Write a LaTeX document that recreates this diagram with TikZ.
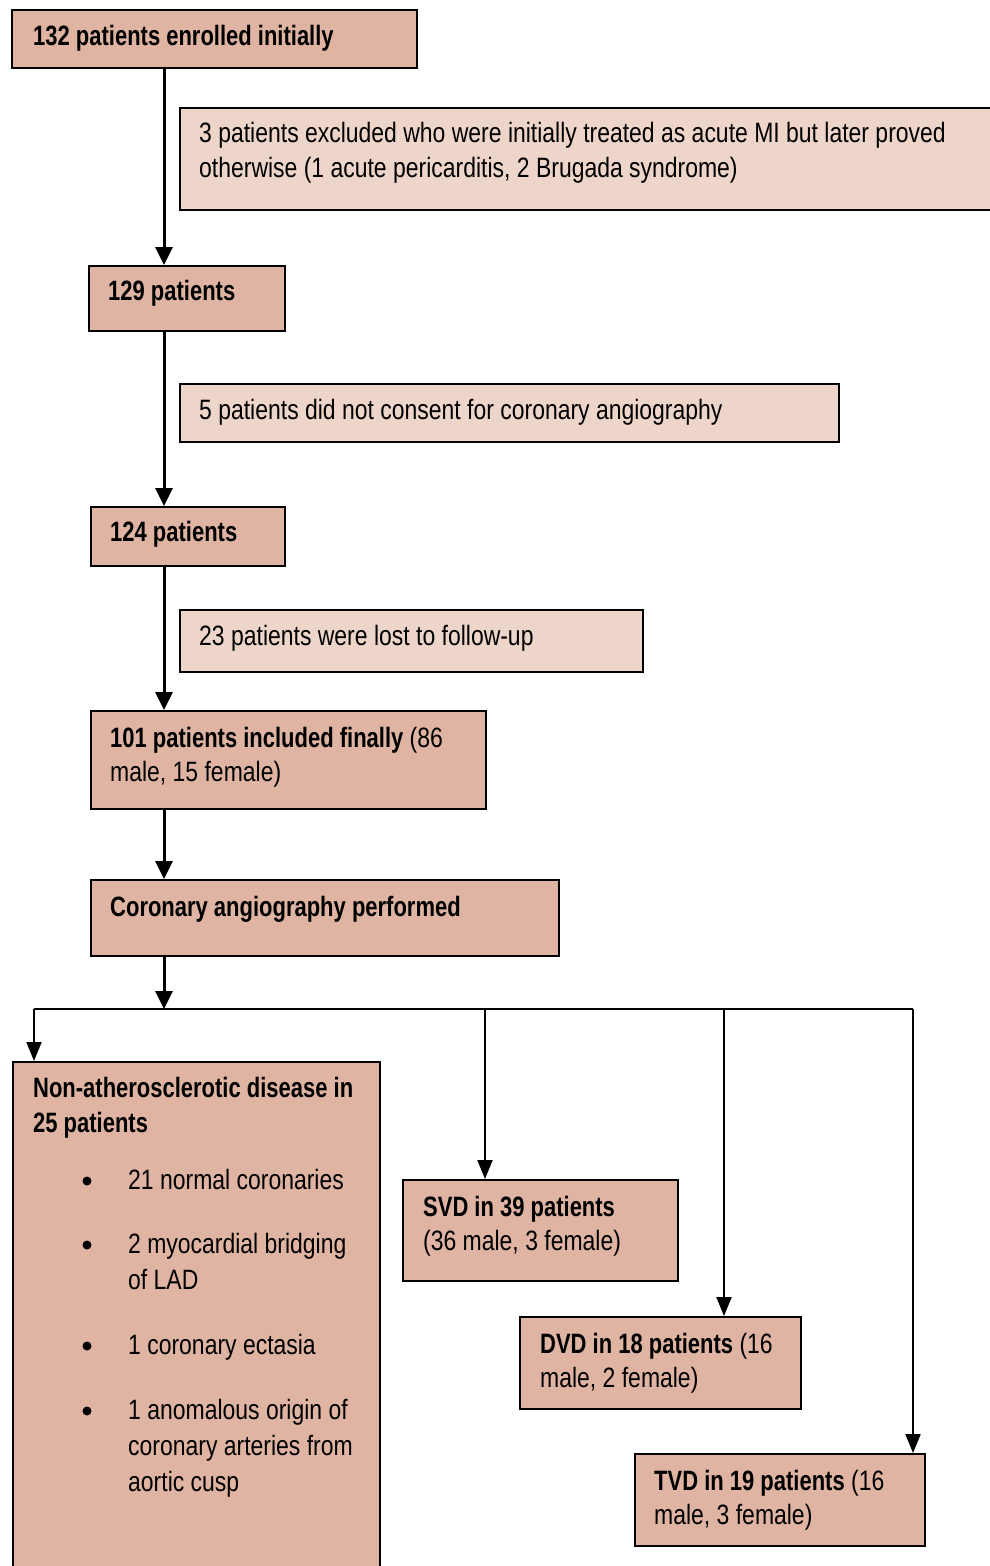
\documentclass[tikz,border=0pt]{standalone}
\usepackage{fontspec}
\setmainfont{Liberation Sans}[FakeStretch=0.82, BoldFont={Liberation Sans Bold}, BoldFeatures={FakeStretch=0.785}]
\usetikzlibrary{arrows.meta}
\definecolor{mainfill}{RGB}{223,180,162}
\definecolor{lightfill}{RGB}{238,213,201}
\tikzset{
  mainbox/.style={draw=black, line width=2pt, fill=mainfill, rectangle, anchor=north west, inner sep=0pt},
  lightbox/.style={draw=black, line width=2pt, fill=lightfill, rectangle, anchor=north west, inner sep=0pt},
  txt/.style={anchor=base west, inner sep=0pt, font=\fontsize{28}{34}\selectfont},
  bul/.style={circle, fill=black, inner sep=0pt, minimum size=9pt},
  arr/.style={line width=3pt, -{Triangle[length=18pt,width=17pt]}},
  brarr/.style={line width=2pt, -{Triangle[length=19pt,width=15pt]}},
  brline/.style={line width=2pt}
}
\begin{document}
\begin{tikzpicture}[x=1pt,y=1pt]
\useasboundingbox (0,0) rectangle (990,-1566);
\clip (0,0) rectangle (990,-1566);

% boxes
\node[mainbox, minimum width=405pt, minimum height=58pt] (b1) at (11,-9) {};
\node[lightbox, minimum width=815pt, minimum height=102pt] (e1) at (179,-107) {};
\node[mainbox, minimum width=196pt, minimum height=65pt] (b2) at (88,-265) {};
\node[lightbox, minimum width=659pt, minimum height=58pt] (e2) at (179,-383) {};
\node[mainbox, minimum width=194pt, minimum height=59pt] (b3) at (90,-506) {};
\node[lightbox, minimum width=463pt, minimum height=62pt] (e3) at (179,-609) {};
\node[mainbox, minimum width=395pt, minimum height=98pt] (b4) at (90,-710) {};
\node[mainbox, minimum width=468pt, minimum height=76pt] (b5) at (90,-879) {};
\node[mainbox, minimum width=367pt, minimum height=520pt] (b6) at (12,-1061) {};
\node[mainbox, minimum width=275pt, minimum height=101pt] (svd) at (402,-1179) {};
\node[mainbox, minimum width=281pt, minimum height=92pt] (dvd) at (519,-1316) {};
\node[mainbox, minimum width=290pt, minimum height=92pt] (tvd) at (634,-1453) {};

% texts
\node[txt] (t1) at (33,-45) {\textbf{132 patients enrolled initially}};
\node[txt] (te1a) at (199,-142) {3 patients excluded who were initially treated as acute MI but later proved};
\node[txt] (te1b) at (199,-177) {otherwise (1 acute pericarditis, 2 Brugada syndrome)};
\node[txt] (t2) at (108,-300) {\textbf{129 patients}};
\node[txt] (te2) at (199,-419) {5 patients did not consent for coronary angiography};
\node[txt] (t3) at (110,-541) {\textbf{124 patients}};
\node[txt] (te3) at (199,-645) {23 patients were lost to follow-up};
\node[txt] (t4a) at (110,-747) {\textbf{101 patients included finally} (86};
\node[txt] (t4b) at (110,-781) {male, 15 female)};
\node[txt] (t5) at (110,-916) {\textbf{Coronary angiography performed}};
\node[txt] (t6a) at (33,-1097) {\textbf{Non-atherosclerotic disease in}};
\node[txt] (t6b) at (33,-1132) {\textbf{25 patients}};
\node[bul] (k1) at (87,-1181) {};
\node[txt] (l1) at (128,-1189) {21 normal coronaries};
\node[bul] (k2) at (87,-1245) {};
\node[txt] (l2a) at (128,-1253) {2 myocardial bridging};
\node[txt] (l2b) at (128,-1289) {of LAD};
\node[bul] (k3) at (87,-1346) {};
\node[txt] (l3) at (128,-1354) {1 coronary ectasia};
\node[bul] (k4) at (87,-1411) {};
\node[txt] (l4a) at (128,-1419) {1 anomalous origin of};
\node[txt] (l4b) at (128,-1455) {coronary arteries from};
\node[txt] (l4c) at (128,-1491) {aortic cusp};
\node[txt] (ts1) at (423,-1216) {\textbf{SVD in 39 patients}};
\node[txt] (ts2) at (423,-1250) {(36 male, 3 female)};
\node[txt] (td1) at (540,-1353) {\textbf{DVD in 18 patients} (16};
\node[txt] (td2) at (540,-1387) {male, 2 female)};
\node[txt] (tt1) at (654,-1490) {\textbf{TVD in 19 patients} (16};
\node[txt] (tt2) at (654,-1524) {male, 3 female)};

% connectors
\coordinate (trunk) at (164,0);
\coordinate (split) at (164,-1009);
\coordinate (jN) at (34,-1009);
\coordinate (jS) at (485,-1009);
\coordinate (jD) at (724,-1009);
\coordinate (jT) at (913,-1009);

\draw[arr] (b1.south -| trunk) -- (b2.north -| trunk);
\draw[arr] (b2.south -| trunk) -- (b3.north -| trunk);
\draw[arr] (b3.south -| trunk) -- (b4.north -| trunk);
\draw[arr] (b4.south -| trunk) -- (b5.north -| trunk);
\draw[arr] (b5.south -| trunk) -- (split);
\draw[brline] (jN) -- (jT);
\draw[brarr] (jN) -- (b6.north -| jN);
\draw[brarr] (jS) -- (svd.north -| jS);
\draw[brarr] (jD) -- (dvd.north -| jD);
\draw[brarr] (jT) -- (tvd.north -| jT);
\end{tikzpicture}
\end{document}
